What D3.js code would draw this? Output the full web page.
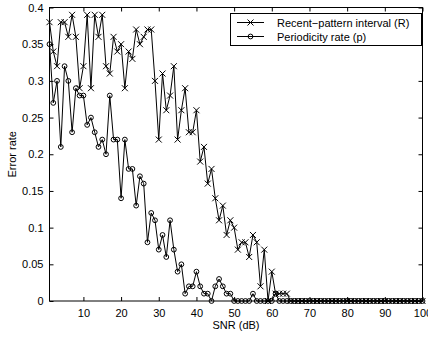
<!DOCTYPE html>
<html>
<head>
<meta charset="utf-8">
<script src="https://cdn.jsdelivr.net/npm/d3@7"></script>
<style>
  body { margin: 0; background: #fff; }
  svg text { font-family: "Liberation Sans", Arial, sans-serif; font-size: 11px; fill: #000; }
</style>
</head>
<body>
<div id="root"></div>
<script>
// SNR values 1..100 (dB)
var snr = d3.range(1, 101);

// error rate, recent-pattern interval (R)
var recentPattern = [
  0.38, 0.34, 0.32, 0.38, 0.38, 0.36, 0.39, 0.36, 0.29, 0.32,
  0.39, 0.29, 0.39, 0.36, 0.39, 0.32, 0.31, 0.36, 0.34, 0.35,
  0.29, 0.34, 0.33, 0.37, 0.35, 0.36, 0.37, 0.37, 0.30, 0.22,
  0.31, 0.26, 0.28, 0.32, 0.22, 0.26, 0.29, 0.23, 0.23, 0.26,
  0.19, 0.21, 0.16, 0.18, 0.14, 0.11, 0.13, 0.09, 0.11, 0.10,
  0.07, 0.08, 0.08, 0.06, 0.09, 0.08, 0.02, 0.07, 0.00, 0.04,
  0.01, 0.01, 0.01, 0.01, 0, 0, 0, 0, 0, 0,
  0, 0, 0, 0, 0, 0, 0, 0, 0, 0,
  0, 0, 0, 0, 0, 0, 0, 0, 0, 0,
  0, 0, 0, 0, 0, 0, 0, 0, 0, 0
];

// error rate, periodicity rate (p)
var periodicity = [
  0.35, 0.27, 0.30, 0.21, 0.32, 0.30, 0.23, 0.29, 0.28, 0.28,
  0.24, 0.25, 0.23, 0.21, 0.22, 0.20, 0.28, 0.22, 0.22, 0.14,
  0.22, 0.18, 0.18, 0.13, 0.17, 0.16, 0.08, 0.12, 0.11, 0.07,
  0.09, 0.06, 0.11, 0.07, 0.04, 0.05, 0.01, 0.02, 0.02, 0.04,
  0.02, 0.01, 0.01, 0.00, 0.02, 0.03, 0.02, 0.01, 0.01, 0.00,
  0, 0, 0, 0, 0.01, 0, 0, 0, 0, 0,
  0.01, 0, 0, 0, 0, 0, 0, 0, 0, 0,
  0, 0, 0, 0, 0, 0, 0, 0, 0, 0,
  0, 0, 0, 0, 0, 0, 0, 0, 0, 0,
  0, 0, 0, 0, 0, 0, 0, 0, 0, 0
];

var xTicks = [10, 20, 30, 40, 50, 60, 70, 80, 90, 100];
var yTicks = [0, 0.05, 0.1, 0.15, 0.2, 0.25, 0.3, 0.35, 0.4];
var seriesNames = ["Recent\u2212pattern interval (R)", "Periodicity rate (p)"];

var width = 428, height = 337,
    margin = { top: 7.5, left: 49.5, right: 5.5, bottom: 36 };

var svg = d3.select("#root").append("svg")
    .attr("width", width)
    .attr("height", height);

var x = d3.scaleLinear().domain([1, 100]).range([margin.left, width - margin.right]);
var y = d3.scaleLinear().domain([0, 0.4]).range([height - margin.bottom, margin.top]);

// axes, matlab style: ticks pointing in, box all round
var fmt = function (v) { return String(+v.toFixed(2)); };

svg.append("g")
    .attr("transform", "translate(0," + y(0) + ")")
    .call(d3.axisBottom(x).tickValues(xTicks).tickSize(-4).tickPadding(8).tickFormat(fmt))
    .call(g => g.select(".domain").remove());

svg.append("g")
    .attr("transform", "translate(0," + y(0.4) + ")")
    .call(d3.axisTop(x).tickValues(xTicks).tickSize(-4).tickFormat(""))
    .call(g => g.select(".domain").remove());

svg.append("g")
    .attr("transform", "translate(" + x(1) + ",0)")
    .call(d3.axisLeft(y).tickValues(yTicks).tickSize(-4).tickPadding(6).tickFormat(fmt))
    .call(g => g.select(".domain").remove());

svg.append("g")
    .attr("transform", "translate(" + x(100) + ",0)")
    .call(d3.axisRight(y).tickValues(yTicks).tickSize(-4).tickFormat(""))
    .call(g => g.select(".domain").remove());

svg.selectAll(".tick text").style("font-size", "11px").attr("fill", "#000");
svg.selectAll(".tick line").attr("stroke", "#000");

svg.append("rect")
    .attr("x", x(1)).attr("y", y(0.4))
    .attr("width", x(100) - x(1)).attr("height", y(0) - y(0.4))
    .attr("fill", "none").attr("stroke", "#000").attr("stroke-width", 1);

// labels
svg.append("text")
    .attr("x", (x(1) + x(100)) / 2).attr("y", 329)
    .attr("text-anchor", "middle")
    .text("SNR (dB)");

svg.append("text")
    .attr("transform", "translate(16," + (y(0.2) + 0) + ") rotate(-90)")
    .attr("text-anchor", "middle")
    .text("Error rate");

// series
var line = d3.line().x((d, i) => x(snr[i])).y(d => y(d));
var plot = svg.append("g");

function xMark(g, cx, cy) {
  var s = 3;
  g.append("path")
    .attr("d", "M" + (cx - s) + "," + (cy - s) + "L" + (cx + s) + "," + (cy + s) +
               "M" + (cx - s) + "," + (cy + s) + "L" + (cx + s) + "," + (cy - s))
    .attr("stroke", "#000").attr("stroke-width", 1).attr("fill", "none");
}

function oMark(g, cx, cy) {
  g.append("circle")
    .attr("cx", cx).attr("cy", cy).attr("r", 2.4)
    .attr("stroke", "#000").attr("stroke-width", 1).attr("fill", "none");
}

plot.append("path").datum(recentPattern)
    .attr("d", line).attr("fill", "none").attr("stroke", "#000").attr("stroke-width", 1);
plot.append("path").datum(periodicity)
    .attr("d", line).attr("fill", "none").attr("stroke", "#000").attr("stroke-width", 1);

var rMarks = plot.append("g"), pMarks = plot.append("g");
recentPattern.forEach(function (d, i) { xMark(rMarks, x(snr[i]), y(d)); });
periodicity.forEach(function (d, i) { oMark(pMarks, x(snr[i]), y(d)); });

// legend
var legend = svg.append("g");
legend.append("rect")
    .attr("x", 230.5).attr("y", 13.5).attr("width", 191).attr("height", 32)
    .attr("fill", "#fff").attr("stroke", "#000").attr("stroke-width", 1);

seriesNames.forEach(function (name, i) {
  var ly = 22.5 + i * 14;
  legend.append("line")
      .attr("x1", 237).attr("x2", 264).attr("y1", ly).attr("y2", ly)
      .attr("stroke", "#000").attr("stroke-width", 1);
  if (i === 0) xMark(legend, 250.5, ly); else oMark(legend, 250.5, ly);
  legend.append("text")
      .attr("x", 277).attr("y", ly + 4)
      .text(name);
});
</script>
</body>
</html>
